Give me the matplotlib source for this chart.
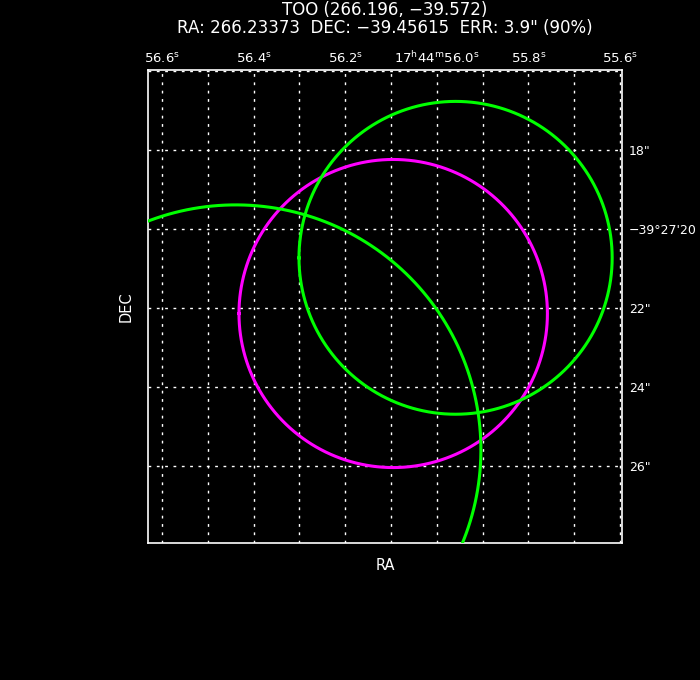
import numpy as np
import matplotlib
matplotlib.use("Agg")
import matplotlib.pyplot as plt

# RA in seconds of 17h44m, Dec in arcsec of -39d27'
dec_deg = -39.45615

# circles: RA centre (s), Dec centre ("), radius (")
circ_ra = [56.0952, 55.9590, 56.4390]
circ_dec = [22.14, 20.73, 25.59]
circ_r = [3.9, 3.96, 6.20]
circ_col = ["#ff00ff", "#00ff00", "#00ff00"]

ra_ticks = [56.6, 56.4, 56.2, 56.0, 55.8, 55.6]
ra_labels = [r"56.6$^{\rm s}$", r"56.4$^{\rm s}$", r"56.2$^{\rm s}$",
             r"17$^{\rm h}$44$^{\rm m}$56.0$^{\rm s}$", r"55.8$^{\rm s}$", r"55.6$^{\rm s}$"]
dec_ticks = [18, 20, 22, 24, 26]
dec_labels = ['18"', "\u221239\u00b027'20", '22"', '24"', '26"']

ra_grid = [56.6, 56.5, 56.4, 56.3, 56.2, 56.1, 56.0, 55.9, 55.8, 55.7, 55.6]
dec_grid = [16, 18, 20, 22, 24, 26]

title1 = "TOO (266.196, \u221239.572)"
title2 = 'RA: 266.23373  DEC: \u221239.45615  ERR: 3.9" (90%)'

fig = plt.figure(figsize=(7, 6.8), dpi=100, facecolor="black")
ax = fig.add_axes([148 / 700, (680 - 543) / 680, 474 / 700, 473 / 680])
ax.set_facecolor("black")

for g in ra_grid:
    ax.axvline(g, color="white", lw=1, ls=(0, (2, 4)), zorder=1)
for g in dec_grid:
    ax.axhline(g, color="white", lw=1, ls=(0, (2, 4)), zorder=1)

cosd = np.cos(np.radians(dec_deg))
t = np.linspace(0, 2 * np.pi, 721)
for ra, de, r, c in zip(circ_ra, circ_dec, circ_r, circ_col):
    ax.plot(ra + r * np.cos(t) / (15 * cosd), de + r * np.sin(t), color=c, lw=2.2, zorder=3)

ax.set_xlim(56.6306, 55.5956)
ax.set_ylim(27.95, 15.975)

ax.xaxis.tick_top()
ax.yaxis.tick_right()
ax.set_xticks(ra_ticks)
ax.set_xticklabels(ra_labels)
ax.set_yticks(dec_ticks)
ax.set_yticklabels(dec_labels)
ax.tick_params(length=0, colors="white", labelsize=9.5)
ax.tick_params(axis="x", pad=3)
ax.tick_params(axis="y", pad=5, labelsize=9)

for s in ax.spines.values():
    s.set_color("white")
    s.set_linewidth(1.2)

ax.set_xlabel("RA", color="white", fontsize=10.5, labelpad=11)
ax.set_ylabel("DEC", color="white", fontsize=10.5, labelpad=10)

fig.text(385 / 700, 1 - 10 / 680, title1, color="white", fontsize=12, ha="center", va="center")
fig.text(385 / 700, 1 - 28 / 680, title2, color="white", fontsize=12, ha="center", va="center")

fig.savefig("out.png", dpi=100, facecolor="black")
